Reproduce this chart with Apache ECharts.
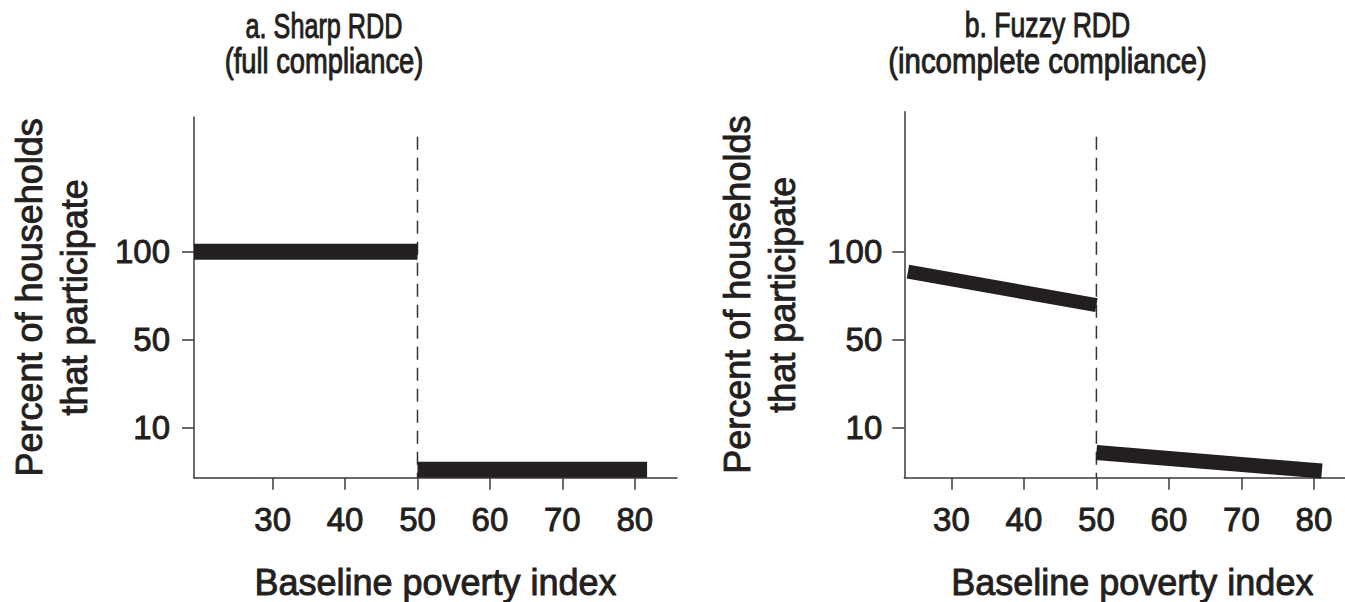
<!DOCTYPE html>
<html>
<head>
<meta charset="utf-8">
<script src="https://cdn.jsdelivr.net/npm/echarts@6/dist/echarts.min.js"></script>
<style>
html,body{margin:0;padding:0;background:#fff;}
#chart{width:1345px;height:602px;}
</style>
</head>
<body>
<div id="chart"></div>
<script>
// ---- data (y values are in the schematic axis units: 10 -> 1, 50 -> 2, 100 -> 3) ----
const xTicks = [30, 40, 50, 60, 70, 80];
const yTickPos = [1, 2, 3];
const yTickLabels = ['10', '50', '100'];
const cutoff = 50;

// a. Sharp RDD
const sharpEligibleX = [19.14, 50];
const sharpEligibleY = [3.0, 3.0];
const sharpIneligibleX = [50, 81.7];
const sharpIneligibleY = [0.523, 0.523];

// b. Fuzzy RDD
const fuzzyEligibleX = [24.0, 50];
const fuzzyEligibleY = [2.773, 2.394];
const fuzzyIneligibleX = [50, 81.1];
const fuzzyIneligibleY = [0.718, 0.508];

const titles = [
  ['a. Sharp RDD', '(full compliance)'],
  ['b. Fuzzy RDD', '(incomplete compliance)']
];
const yTitle = 'Percent of households\nthat participate';
const xTitle = 'Baseline poverty index';

// ---- helpers ----
const pts = (xs, ys) => xs.map((x, i) => [x, ys[i]]);
const FONT = '"Liberation Sans", Arial, Helvetica, sans-serif';
const AX = '#3a3a3a';
const INK = '#231f20';
const TXT = '#231f20';
const heavy = {textBorderColor: TXT, textBorderWidth: 0.9};

function xAxisCfg(idx, min, max) {
  return {
    type: 'value', gridIndex: idx, min: min, max: max,
    splitLine: {show: false},
    axisLine: {show: true, onZero: false, lineStyle: {color: AX, width: 1.5}},
    axisTick: {show: true, customValues: xTicks, length: 12, lineStyle: {color: AX, width: 1.5}},
    axisLabel: Object.assign({customValues: xTicks, fontFamily: FONT, fontSize: 33, color: TXT, margin: 25}, heavy),
    name: xTitle, nameLocation: 'middle', nameGap: 87,
    nameTextStyle: Object.assign({fontFamily: FONT, fontSize: 36, color: TXT}, heavy)
  };
}
function yAxisCfg(idx, max, labelMargin, nameGap) {
  return {
    type: 'value', gridIndex: idx, min: 0.432, max: max,
    splitLine: {show: false},
    axisLine: {show: true, onZero: false, lineStyle: {color: AX, width: 1.5}},
    axisTick: {show: true, customValues: yTickPos, length: 12, lineStyle: {color: AX, width: 1.5}},
    axisLabel: Object.assign({
      customValues: yTickPos, fontFamily: FONT, fontSize: 33, color: TXT, margin: labelMargin,
      formatter: v => yTickLabels[yTickPos.indexOf(v)]
    }, heavy),
    name: yTitle, nameLocation: 'middle', nameRotate: 90, nameGap: nameGap,
    nameTextStyle: Object.assign({fontFamily: FONT, fontSize: 36, lineHeight: 45, color: TXT, align: 'center'}, heavy)
  };
}
function thick(idx, xs, ys, w) {
  return {
    type: 'line', xAxisIndex: idx, yAxisIndex: idx, data: pts(xs, ys),
    symbol: 'none', silent: true, z: 3,
    lineStyle: {color: INK, width: w, cap: 'butt'}
  };
}
function dashed(idx, top) {
  return {
    type: 'line', xAxisIndex: idx, yAxisIndex: idx,
    data: [[cutoff, top], [cutoff, 0.432]],
    symbol: 'none', silent: true, z: 2,
    lineStyle: {color: '#333', width: 1.5, type: [13, 8]}
  };
}
function titleText(x, y, text, sx) {
  return {
    type: 'text', x: x, y: y, scaleX: sx, silent: true,
    style: {text: text, font: '35px ' + FONT, fill: TXT, stroke: TXT, lineWidth: 1,
            textAlign: 'center', textVerticalAlign: 'middle'}
  };
}

const chart = echarts.init(document.getElementById('chart'), null, {renderer: 'svg'});
chart.setOption({
  backgroundColor: '#ffffff',
  animation: false,
  grid: [
    {left: 194, top: 117, width: 483, height: 360.7, outerBoundsMode: 'none', containLabel: false},
    {left: 904.3, top: 111.7, width: 456, height: 366, outerBoundsMode: 'none', containLabel: false}
  ],
  xAxis: [xAxisCfg(0, 19.14, 85.83), xAxisCfg(1, 23.5, 86.4)],
  yAxis: [yAxisCfg(0, 4.531, 24, 97), yAxisCfg(1, 4.591, 22, 99)],
  series: [
    dashed(0, 4.307),
    thick(0, sharpEligibleX, sharpEligibleY, 16),
    thick(0, sharpIneligibleX, sharpIneligibleY, 16),
    dashed(1, 4.307),
    thick(1, fuzzyEligibleX, fuzzyEligibleY, 14),
    thick(1, fuzzyIneligibleX, fuzzyIneligibleY, 15)
  ],
  graphic: [
    titleText(324, 25, titles[0][0], 0.72),
    titleText(324, 61, titles[0][1], 0.78),
    titleText(1047.5, 25, titles[1][0], 0.76),
    titleText(1047.5, 61, titles[1][1], 0.84)
  ]
});
</script>
</body>
</html>
